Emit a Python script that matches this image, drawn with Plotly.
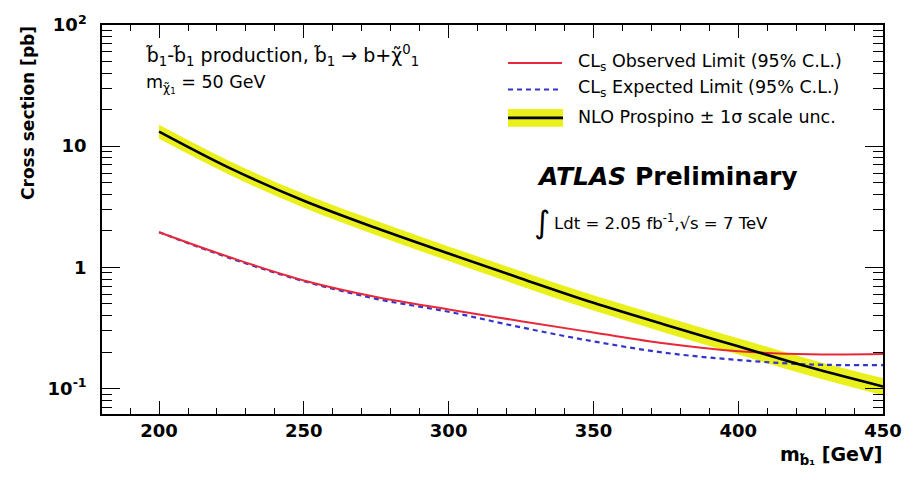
import plotly.graph_objects as go

# sbottom mass points [GeV]
mass = [200, 225, 250, 275, 300, 325, 350, 375, 400, 425, 450]

# NLO Prospino cross section [pb] with +-1 sigma scale uncertainty
nlo_xsec = [13.2, 6.5, 3.55, 2.11, 1.30, 0.81, 0.51, 0.335, 0.223, 0.149, 0.104]
nlo_up = [15.0, 7.4, 4.05, 2.42, 1.49, 0.93, 0.59, 0.39, 0.26, 0.174, 0.122]
nlo_down = [11.5, 5.7, 3.1, 1.84, 1.13, 0.70, 0.44, 0.288, 0.191, 0.127, 0.088]

# CLs 95% C.L. upper limits [pb]
obs_limit = [1.95, 1.20, 0.78, 0.57, 0.45, 0.36, 0.29, 0.235, 0.203, 0.192, 0.193]
exp_limit = [1.95, 1.18, 0.77, 0.55, 0.43, 0.32, 0.245, 0.197, 0.172, 0.158, 0.156]

# axis ticks
x_ticks = [200, 250, 300, 350, 400, 450]
y_tickvals = [0.1, 1, 10, 100]
y_ticktext = ["10<sup>-1</sup>", "1", "10", "10<sup>2</sup>"]
y_minor = [d * k for d in (0.01, 0.1, 1, 10) for k in range(2, 10)]

W, H = 917, 480
L, R, T, B = 102, 883, 16, 414

YELLOW = "#e9f01c"
RED = "#e8283a"
BLUE = "#3434c8"
FONT = "DejaVu Sans"


def px(x):
    return (x - L) / (R - L)


def py(y):
    return (B - y) / (B - T)


fig = go.Figure()

# uncertainty band
fig.add_trace(go.Scatter(x=mass, y=nlo_up, mode="lines", line=dict(width=0, color=YELLOW, shape="spline"),
                         showlegend=False, hoverinfo="skip"))
fig.add_trace(go.Scatter(x=mass, y=nlo_down, mode="lines", line=dict(width=0, color=YELLOW, shape="spline"),
                         fill="tonexty", fillcolor=YELLOW, showlegend=False, hoverinfo="skip"))
# limits
fig.add_trace(go.Scatter(x=mass, y=exp_limit, mode="lines",
                         line=dict(color=BLUE, width=2.2, dash="5px,4px", shape="spline"), showlegend=False))
fig.add_trace(go.Scatter(x=mass, y=obs_limit, mode="lines",
                         line=dict(color=RED, width=2, shape="spline"), showlegend=False))
# central NLO
fig.add_trace(go.Scatter(x=mass, y=nlo_xsec, mode="lines",
                         line=dict(color="black", width=2.6, shape="spline"), showlegend=False))

shapes = [
    # legend samples
    dict(type="line", xref="paper", yref="paper", x0=px(508), x1=px(562), y0=py(55), y1=py(55),
         line=dict(color=RED, width=2)),
    dict(type="line", xref="paper", yref="paper", x0=px(508), x1=px(562), y0=py(82), y1=py(82),
         line=dict(color=BLUE, width=2, dash="5px,4px")),
    dict(type="rect", xref="paper", yref="paper", x0=px(508), x1=px(563), y0=py(120), y1=py(102),
         fillcolor=YELLOW, line=dict(width=0)),
    dict(type="line", xref="paper", yref="paper", x0=px(508), x1=px(563), y0=py(111), y1=py(111),
         line=dict(color="black", width=2.6)),
]


def txt(x, y, s, size, **kw):
    d = dict(xref="paper", yref="paper", x=px(x), y=py(y), text=s, showarrow=False,
             xanchor="left", yanchor="middle", borderpad=0,
             font=dict(family=FONT, size=size, color="black"))
    d.update(kw)
    return d


annotations = [
    txt(577, 54, "CL<sub>s</sub> Observed Limit (95% C.L.)", 17.5),
    txt(577, 81, "CL<sub>s</sub> Expected Limit (95% C.L.)", 17.5),
    txt(577, 110, "NLO Prospino ± 1σ scale unc.", 17.5),
    txt(145, 47, "b̃<sub>1</sub>-b̃<sub>1</sub> production, b̃<sub>1</sub> → b+χ̃<sup>0</sup><sub>1</sub>", 19),
    txt(145, 76, "m<sub>χ̃<sub>1</sub></sub> = 50 GeV", 17.5),
    txt(536, 171, "<b><i>ATLAS</i> Preliminary</b>", 25),
    txt(533, 218, "∫", 31),
    txt(553, 218, "Ldt = 2.05 fb<sup>-1</sup>,√s = 7 TeV", 16.5),
    txt(883, 456, "<b>m<sub>b̃₁</sub> [GeV]</b>", 19, xanchor="right"),
    dict(xref="paper", yref="paper", x=px(28), y=py(106), text="<b>Cross section [pb]</b>",
         showarrow=False, textangle=-90, xanchor="center", yanchor="middle",
         font=dict(family=FONT, size=17, color="black")),
]

fig.update_layout(
    width=W, height=H,
    margin=dict(l=L, r=W - R, t=T, b=H - B),
    paper_bgcolor="white", plot_bgcolor="white",
    shapes=shapes, annotations=annotations,
    showlegend=False,
)

fig.update_xaxes(
    range=[180.3, 450], tickvals=x_ticks,
    ticks="inside", ticklen=13, tickwidth=1.3, tickcolor="black",
    minor=dict(dtick=10, tick0=0, ticks="inside", ticklen=6, tickwidth=1.2, tickcolor="black"),
    showline=True, linecolor="black", linewidth=1.5, mirror="allticks",
    showgrid=False, zeroline=False,
    tickfont=dict(family=FONT, size=18, color="black", weight="bold"),
    ticklabelstandoff=0,
)
fig.update_yaxes(
    type="log", range=[-1.21, 2.0], tickvals=y_tickvals, ticktext=y_ticktext,
    ticks="inside", ticklen=18, tickwidth=1.3, tickcolor="black",
    minor=dict(tickmode="array", tickvals=y_minor, ticks="inside", ticklen=10, tickwidth=1.2,
               tickcolor="black"),
    showline=True, linecolor="black", linewidth=1.5, mirror="allticks",
    showgrid=False, zeroline=False,
    tickfont=dict(family=FONT, size=18, color="black", weight="bold"),
    ticklabelstandoff=10,
)

fig.write_html("out.html")
